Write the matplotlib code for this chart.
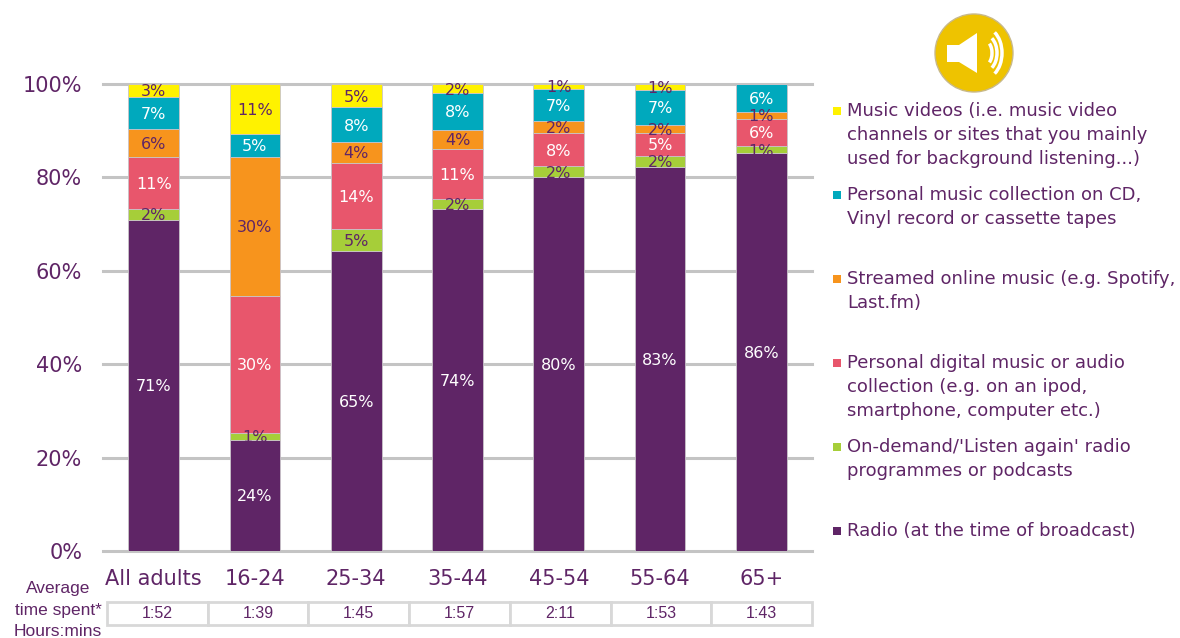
import matplotlib
matplotlib.use("Agg")
import matplotlib.pyplot as plt
from matplotlib.patches import Circle, Polygon, Rectangle, Arc

plt.rcParams["font.family"] = ["Liberation Sans", "DejaVu Sans"]

W, H = 1180, 638
PURPLE = "#5f2566"

categories = ["All adults", "16-24", "25-34", "35-44", "45-54", "55-64", "65+"]
times = ["1:52", "1:39", "1:45", "1:57", "2:11", "1:53", "1:43"]

# stack heights, the printed labels are kept apart because they are rounded
radio = [70.9, 23.8, 64.2, 73.2, 80.0, 82.2, 85.2]
on_demand = [2.3, 1.5, 4.8, 2.2, 2.4, 2.4, 1.5]
digital = [11.2, 29.3, 14.1, 10.6, 7.1, 4.9, 5.8]
streamed = [6.0, 29.8, 4.5, 4.2, 2.5, 1.7, 1.5]
cd = [6.8, 4.9, 7.4, 7.8, 7.0, 7.5, 6.0]
videos = [2.8, 10.7, 5.0, 2.0, 1.0, 1.3, 0.0]

radio_labels = ["71%", "24%", "65%", "74%", "80%", "83%", "86%"]
on_demand_labels = ["2%", "1%", "5%", "2%", "2%", "2%", "1%"]
digital_labels = ["11%", "30%", "14%", "11%", "8%", "5%", "6%"]
streamed_labels = ["6%", "30%", "4%", "4%", "2%", "2%", "1%"]
cd_labels = ["7%", "5%", "8%", "8%", "7%", "7%", "6%"]
videos_labels = ["3%", "11%", "5%", "2%", "1%", "1%", ""]

series = [
    (radio, radio_labels, "#5f2566", "white"),
    (on_demand, on_demand_labels, "#a6ce39", PURPLE),
    (digital, digital_labels, "#e8566c", "white"),
    (streamed, streamed_labels, "#f7941d", PURPLE),
    (cd, cd_labels, "#00a9bd", "white"),
    (videos, videos_labels, "#fff200", PURPLE),
]

legend_items = [
    ("#fff200", ["Music videos (i.e. music video", "channels or sites that you mainly", "used for background listening...)"], 111),
    ("#00a9bd", ["Personal music collection on CD,", "Vinyl record or cassette tapes"], 195),
    ("#f7941d", ["Streamed online music (e.g. Spotify,", "Last.fm)"], 279),
    ("#e8566c", ["Personal digital music or audio", "collection (e.g. on an ipod,", "smartphone, computer etc.)"], 363),
    ("#a6ce39", ["On-demand/'Listen again' radio", "programmes or podcasts"], 447),
    ("#5f2566", ["Radio (at the time of broadcast)"], 531),
]

fig = plt.figure(figsize=(W / 100, H / 100), dpi=100)

# main axes, placed to line up with the reference pixels
left, right, top, bottom = 103, 812, 84, 551
ax = fig.add_axes([left / W, 1 - bottom / H, (right - left) / W, (bottom - top) / H])

base = [0] * len(categories)
for values, labels, color, text_color in series:
    ax.bar(range(len(categories)), values, width=0.5, bottom=base, color=color,
           edgecolor="#c9c4c9", linewidth=0.6, zorder=3)
    for i, v in enumerate(values):
        if labels[i]:
            ax.annotate(labels[i], (i, base[i] + v / 2), xytext=(0, -1), textcoords="offset points",
                        ha="center", va="center", color=text_color, fontsize=11.5,
                        family="DejaVu Sans", zorder=4)
    base = [b + v for b, v in zip(base, values)]

ax.set_xlim(-0.5, 6.5)
ax.set_ylim(0, 100)
ax.set_yticks(range(0, 101, 20))
ax.set_yticklabels([f"{t}%" for t in range(0, 101, 20)], fontsize=15, color=PURPLE, family="DejaVu Sans")
ax.set_xticks(range(len(categories)))
ax.set_xticklabels(categories, fontsize=15, color=PURPLE, family="DejaVu Sans")
ax.tick_params(axis="both", length=0)
ax.tick_params(axis="x", pad=13)
ax.tick_params(axis="y", pad=15)
ax.grid(axis="y", color="#c4c4c4", linewidth=2.2, zorder=1)
ax.set_axisbelow(True)
for spine in ax.spines.values():
    spine.set_visible(False)
for line in ax.get_ygridlines():
    line.set_clip_on(False)

# overlay in pixel coordinates for the table, legend and icon
ov = fig.add_axes([0, 0, 1, 1], zorder=5)
ov.set_xlim(0, W)
ov.set_ylim(H, 0)
ov.axis("off")

for text, y in zip(["Average", "time spent*", "Hours:mins"], [589, 611, 632]):
    ov.text(58, y, text, ha="center", va="center", fontsize=12.5, color=PURPLE)

cell_w = (812 - 107) / len(times)
for i, t in enumerate(times):
    x0 = 107 + i * cell_w
    ov.add_patch(Rectangle((x0, 602), cell_w, 23, facecolor="white", edgecolor="#d8d8d8", linewidth=2))
    ov.text(x0 + cell_w / 2, 614, t, ha="center", va="center", fontsize=11.5, color=PURPLE)

for color, lines, y0 in legend_items:
    ov.add_patch(Rectangle((833, y0 - 4), 8, 8, facecolor=color, edgecolor="none"))
    for k, line in enumerate(lines):
        ov.text(847, y0 + k * 24, line, ha="left", va="center", fontsize=13,
                family="DejaVu Sans", color=PURPLE)

# speaker icon
ov.add_patch(Circle((974, 53), 39, facecolor="#eec300", edgecolor="#c8b98a", linewidth=1))
ov.add_patch(Polygon([(947, 45), (959, 45), (977, 33), (977, 73), (959, 62), (947, 62)],
                     facecolor="white", edgecolor="none"))
for w, h in [(14, 24), (24, 36), (34, 50)]:
    ov.add_patch(Arc((985, 53), w, h, theta1=-65, theta2=65, color="white", linewidth=2.5))

fig.savefig("out.png", dpi=100, facecolor="white")
